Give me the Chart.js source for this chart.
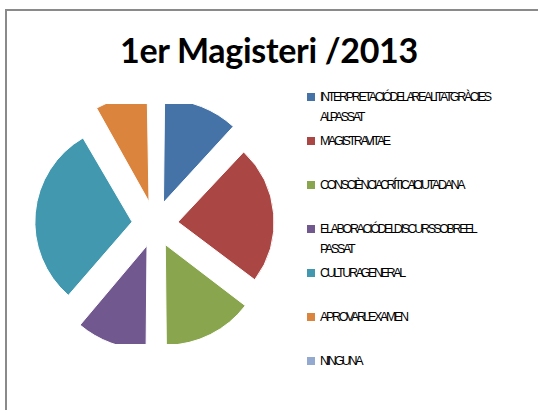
<!DOCTYPE html>
<html>
<head>
<meta charset="utf-8">
<script src="https://cdn.jsdelivr.net/npm/chart.js@4.4.0/dist/chart.umd.min.js"></script>
<style>
  html, body { margin: 0; padding: 0; background: #fff; }
  #wrap { position: relative; width: 538px; height: 410px; overflow: hidden; background: #fff; }
  #frame { position: absolute; left: 5px; top: 9px; width: 600px; height: 600px;
           border-left: 2px solid #8a8a8a; border-top: 2px solid #8a8a8a; }
  #title { position: absolute; left: 0; width: 538px; top: 30px; text-align: center;
           font-family: Lato, "Open Sans", sans-serif; font-weight: bold; font-size: 34px;
           line-height: 40px; color: #000; letter-spacing: -0.3px; }
  #pieBox { position: absolute; left: 35px; top: 104px; width: 240px; height: 240px; }
  #legend { position: absolute; left: 307px; top: 0; width: 231px; height: 410px; }
  .item { position: absolute; left: 0; width: 231px; }
  .sw { position: absolute; left: 0; top: 6px; width: 8px; height: 8px; }
  .tx { position: absolute; left: 13px; top: 0; white-space: nowrap;
        font-family: "Liberation Sans Narrow", "Liberation Sans", sans-serif;
        font-size: 12.5px; line-height: 20px; letter-spacing: -2.35px; word-spacing: -1.5px; color: #000; }
  .tx div { white-space: nowrap; }
</style>
</head>
<body>
<div id="wrap">
  <div id="frame"></div>
  <div id="title"></div>
  <div id="pieBox"><canvas id="c" width="240" height="240"></canvas></div>
  <div id="legend"></div>
</div>
<script>
const chartTitle = "1er Magisteri /2013";
const categories = [
  ["INTERPRETACIÓ DE LA REALITAT GRÀCIES", "AL PASSAT"],
  ["MAGISTRA VITAE"],
  ["CONSCIÈNCIA CRÍTICA I CIUTADANA"],
  ["ELABORACIÓ DEL DISCURS SOBRE EL", "PASSAT"],
  ["CULTURA GENERAL"],
  ["APROVAR L'EXAMEN"],
  ["NINGUNA"]
];
const values = [12, 23.3, 14.7, 11.4, 30.3, 8.4, 0];
const colors = ["#4572A7", "#AA4643", "#89A54E", "#71588F", "#4198AF", "#DB843D", "#93A9CF"];

document.getElementById('title').textContent = chartTitle;

const legend = document.getElementById('legend');
categories.forEach((lines, i) => {
  const it = document.createElement('div');
  it.className = 'item';
  it.style.top = (87 + i * 44) + 'px';
  const sw = document.createElement('div');
  sw.className = 'sw';
  sw.style.background = colors[i];
  const tx = document.createElement('div');
  tx.className = 'tx';
  lines.forEach(l => {
    const d = document.createElement('div');
    d.textContent = l;
    tx.appendChild(d);
  });
  it.appendChild(sw); it.appendChild(tx);
  legend.appendChild(it);
});

new Chart(document.getElementById('c'), {
  type: 'pie',
  data: {
    labels: categories.map(l => l.join(' ')),
    datasets: [{
      data: values,
      backgroundColor: colors,
      borderColor: '#ffffff',
      borderWidth: 1,
      offset: 92
    }]
  },
  options: {
    responsive: false,
    animation: false,
    radius: 96,
    layout: { padding: 0 },
    plugins: {
      legend: { display: false },
      title: { display: false },
      tooltip: { enabled: false }
    }
  }
});
</script>
</body>
</html>
